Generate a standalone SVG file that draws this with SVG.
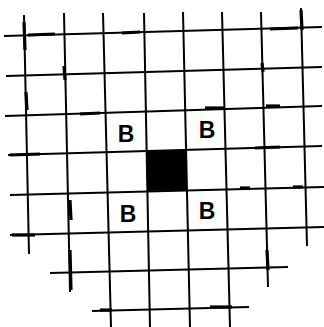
<svg xmlns="http://www.w3.org/2000/svg" width="324" height="327" viewBox="0 0 324 327">
<style>
.g{stroke:#000;stroke-width:2;stroke-linecap:butt;fill:none}
.t{stroke:#000;stroke-width:3.2;fill:none}
.b{font-family:"Liberation Sans",Arial,sans-serif;font-weight:bold;font-size:23px;fill:#000;text-anchor:middle}
</style>
<rect width="324" height="327" fill="#fff"/>
<g id="grid">
<g id="horizontal">
<line class="g" x1="4" y1="36" x2="322" y2="27"/>
<line class="g" x1="6" y1="76" x2="322" y2="67"/>
<line class="g" x1="5" y1="116" x2="322" y2="106"/>
<line class="g" x1="8" y1="155" x2="322" y2="146"/>
<line class="g" x1="10" y1="195" x2="324" y2="187"/>
<line class="g" x1="10" y1="235" x2="324" y2="227"/>
<line class="g" x1="50" y1="273" x2="288" y2="267"/>
<line class="g" x1="92" y1="311" x2="249" y2="307"/>
</g>
<g id="vertical">
<line class="g" x1="24" y1="15" x2="29" y2="254"/>
<line class="g" x1="64" y1="13" x2="70" y2="292"/>
<line class="g" x1="103" y1="13" x2="111" y2="327"/>
<line class="g" x1="144" y1="13" x2="150" y2="327"/>
<line class="g" x1="183" y1="12" x2="190" y2="327"/>
<line class="g" x1="222" y1="12" x2="230" y2="327"/>
<line class="g" x1="261" y1="12" x2="268" y2="287"/>
<line class="g" x1="301" y1="8" x2="307" y2="246"/>
</g>
<g id="thick-marks">
<line class="t" x1="24" y1="22" x2="25" y2="50"/>
<line class="t" x1="28" y1="35" x2="55" y2="34"/>
<line class="t" x1="122" y1="33" x2="140" y2="32"/>
<line class="t" x1="270" y1="29" x2="298" y2="28"/>
<line class="t" x1="301" y1="10" x2="302" y2="30"/>
<line class="t" x1="64" y1="66" x2="65" y2="80"/>
<line class="t" x1="262" y1="63" x2="263" y2="72"/>
<line class="t" x1="26" y1="92" x2="27" y2="110"/>
<line class="t" x1="80" y1="114" x2="100" y2="113"/>
<line class="t" x1="205" y1="108" x2="225" y2="108"/>
<line class="t" x1="266" y1="106" x2="280" y2="106"/>
<line class="t" x1="10" y1="155" x2="40" y2="154"/>
<line class="t" x1="255" y1="148" x2="280" y2="147"/>
<line class="t" x1="12" y1="235" x2="35" y2="235"/>
<line class="t" x1="70" y1="200" x2="71" y2="220"/>
<line class="t" x1="70" y1="250" x2="71" y2="290"/>
<line class="t" x1="240" y1="188" x2="250" y2="188"/>
<line class="t" x1="293" y1="187" x2="303" y2="187"/>
<line class="t" x1="267" y1="250" x2="268" y2="270"/>
<line class="t" x1="210" y1="307" x2="232" y2="307"/>
<line class="t" x1="100" y1="310" x2="112" y2="310"/>
</g>
</g>
<g id="center">
<polygon points="147,151 186,150 187,190 148,191" fill="#000"/>
</g>
<g id="labels">
<text class="b" x="126" y="142">B</text>
<text class="b" x="207" y="138">B</text>
<text class="b" x="128" y="222">B</text>
<text class="b" x="207" y="219">B</text>
</g>
</svg>
